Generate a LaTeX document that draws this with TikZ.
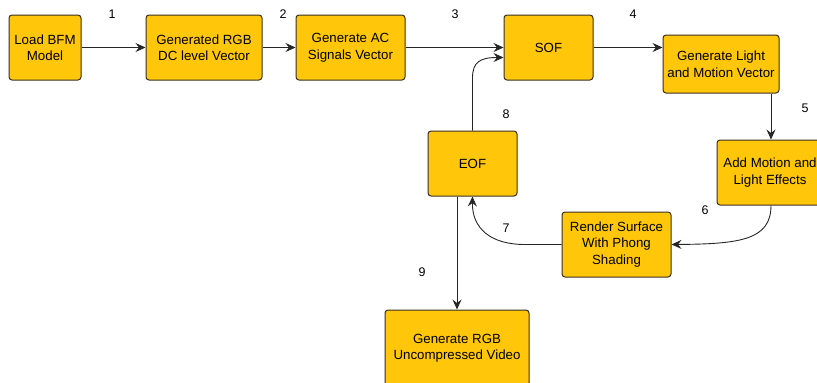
\documentclass[tikz,border=0pt]{standalone}
\usepackage{fontspec}
\setmainfont{Liberation Sans}
\usetikzlibrary{arrows.meta}
\definecolor{boxfill}{HTML}{FFC60A}
\definecolor{boxline}{HTML}{3A3020}
\tikzset{
  blk/.style={draw=boxline, fill=boxfill, line width=1pt, rounded corners=3pt,
    align=center, inner sep=0pt, font=\fontsize{13.3}{16.5}\selectfont},
  conn/.style={draw=black!85, line width=0.9pt, -{Stealth[length=10pt,width=9pt,inset=3.5pt]}},
  num/.style={font=\fontsize{12.5}{14}\selectfont, inner sep=0pt}
}
\begin{document}
\begin{tikzpicture}[x=1pt,y=-1pt]
\useasboundingbox (0,0) rectangle (817,383);
\begin{scope}
\clip (0,0) rectangle (817,383);
\node[blk, minimum width=72pt, minimum height=65pt] (load) at (45,47.5) {Load BFM\\Model};
\node[blk, minimum width=116pt, minimum height=65pt] (dc) at (204,47.5) {Generated RGB\\DC level Vector};
\node[blk, minimum width=109pt, minimum height=65pt] (ac) at (350.5,47.5) {Generate AC\\Signals Vector};
\node[blk, minimum width=89pt, minimum height=65pt] (sof) at (548.5,47.5) {SOF};
\node[blk, minimum width=116pt, minimum height=58pt] (light) at (721,64) {Generate Light\\and Motion Vector};
\node[blk, minimum width=106pt, minimum height=65pt] (add) at (770,172.5) {Add Motion and\\Light Effects};
\node[blk, minimum width=109pt, minimum height=65pt] (render) at (616.5,244.5) {Render Surface\\With Phong\\Shading};
\node[blk, minimum width=89pt, minimum height=65pt] (eof) at (472.5,163.5) {EOF};
\node[blk, minimum width=144pt, minimum height=76pt] (video) at (457,348) {Generate RGB\\Uncompressed Video};

\draw[conn] (load.east) -- (dc.west);
\draw[conn] (dc.east) -- (ac.west);
\draw[conn] (ac.east) -- (sof.west);
\draw[conn] (sof.east) -- (sof.east -| light.west);
\draw[conn] ([xshift=50pt]light.south) -- ([xshift=1pt]add.north);
\draw[conn] ([xshift=1pt]add.south) .. controls (771,240) and (740,244) .. (render.east);
\draw[conn] (render.west) -- (525,244.5) .. controls (490,244.5) and (472,228) .. (eof.south);
\draw[conn] ([xshift=-15.5pt]eof.south) -- ([xshift=-15.5pt]eof.south |- video.north);
\draw[conn] (eof.north) -- (472.5,78) .. controls (472.5,62) and (480,57.5) .. ([yshift=-10pt]sof.west);

\node[num] (n1) at (112,14) {1};
\node[num] (n2) at (283,14) {2};
\node[num] (n3) at (455,14) {3};
\node[num] (n4) at (633,14) {4};
\node[num] (n5) at (805,108) {5};
\node[num] (n6) at (705,210) {6};
\node[num] (n7) at (506,228) {7};
\node[num] (n8) at (506,114) {8};
\node[num] (n9) at (422,272) {9};
\end{scope}
\end{tikzpicture}
\end{document}
